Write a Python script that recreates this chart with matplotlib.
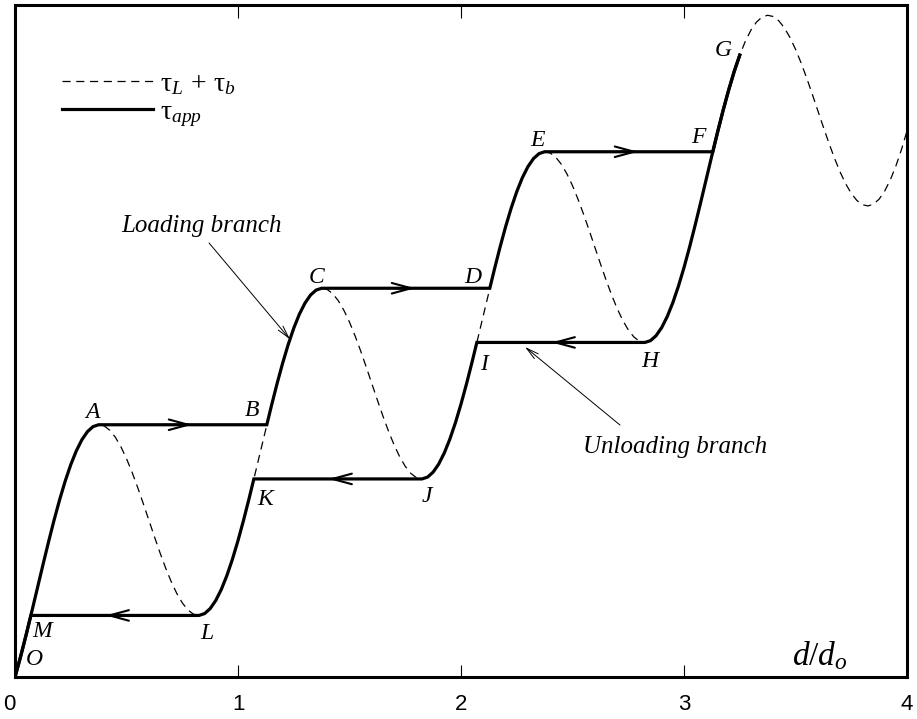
import numpy as np
import matplotlib.pyplot as plt

plt.rcParams['mathtext.fontset'] = 'custom'
plt.rcParams['mathtext.rm'] = 'Liberation Serif'
plt.rcParams['mathtext.it'] = 'Liberation Serif:italic'

# tau_L + tau_b, one sample every 0.025 in d/d_o
d_ratio = np.linspace(0, 4, 161)
tau_period0 = [0.0000, 0.1501, 0.3107, 0.4784, 0.6496, 0.8208, 0.9885, 1.1491, 1.2992, 1.4357,
               1.5560, 1.6577, 1.7389, 1.7981, 1.8346, 1.8481, 1.8389, 1.8077, 1.7560, 1.6857,
               1.5992, 1.4991, 1.3885, 1.2708, 1.1496, 1.0284, 0.9107, 0.8001, 0.7000, 0.6135,
               0.5432, 0.4915, 0.4603, 0.4511, 0.4646, 0.5011, 0.5603, 0.6415, 0.7432, 0.8635]
tau_period1 = [1.0000, 1.1501, 1.3107, 1.4784, 1.6496, 1.8208, 1.9885, 2.1491, 2.2992, 2.4357,
               2.5560, 2.6577, 2.7389, 2.7981, 2.8346, 2.8481, 2.8389, 2.8077, 2.7560, 2.6857,
               2.5992, 2.4991, 2.3885, 2.2708, 2.1496, 2.0284, 1.9107, 1.8001, 1.7000, 1.6135,
               1.5432, 1.4915, 1.4603, 1.4511, 1.4646, 1.5011, 1.5603, 1.6415, 1.7432, 1.8635]
tau_period2 = [2.0000, 2.1501, 2.3107, 2.4784, 2.6496, 2.8208, 2.9885, 3.1491, 3.2992, 3.4357,
               3.5560, 3.6577, 3.7389, 3.7981, 3.8346, 3.8481, 3.8389, 3.8077, 3.7560, 3.6857,
               3.5992, 3.4991, 3.3885, 3.2708, 3.1496, 3.0284, 2.9107, 2.8001, 2.7000, 2.6135,
               2.5432, 2.4915, 2.4603, 2.4511, 2.4646, 2.5011, 2.5603, 2.6415, 2.7432, 2.8635]
tau_period3 = [3.0000, 3.1501, 3.3107, 3.4784, 3.6496, 3.8208, 3.9885, 4.1491, 4.2992, 4.4357,
               4.5560, 4.6577, 4.7389, 4.7981, 4.8346, 4.8481, 4.8389, 4.8077, 4.7560, 4.6857,
               4.5992, 4.4991, 4.3885, 4.2708, 4.1496, 4.0284, 3.9107, 3.8001, 3.7000, 3.6135,
               3.5432, 3.4915, 3.4603, 3.4511, 3.4646, 3.5011, 3.5603, 3.6415, 3.7432, 3.8635]
tau_end = [4.0000]
tau_sum = np.array(tau_period0 + tau_period1 + tau_period2 + tau_period3 + tau_end)

g_stop = 3.25  # loading stops at G

# point labels (text positions)
point_labels = {'A': (0.348, 1.94), 'B': (1.063, 1.95), 'C': (1.35, 2.93), 'D': (2.054, 2.93),
                'E': (2.345, 3.93), 'F': (3.063, 3.95), 'G': (3.175, 4.59), 'H': (2.848, 2.315),
                'I': (2.103, 2.29), 'J': (1.848, 1.326), 'K': (1.121, 1.304), 'L': (0.861, 0.322),
                'M': (0.121, 0.33), 'O': (0.085, 0.125)}

# peaks and troughs of the curve
n = len(tau_sum)
peaks = [i for i in range(1, n - 1) if tau_sum[i] > tau_sum[i - 1] and tau_sum[i] >= tau_sum[i + 1]]
troughs = [i for i in range(1, n - 1) if tau_sum[i] < tau_sum[i - 1] and tau_sum[i] <= tau_sum[i + 1]]


def crossing(level, i0, i1):
    # x where the rising branch i0..i1 reaches level
    return np.interp(level, tau_sum[i0:i1 + 1], d_ratio[i0:i1 + 1])


def seg(x0, x1):
    m = (d_ratio > x0) & (d_ratio < x1)
    xs = np.r_[x0, d_ratio[m], x1]
    return xs, np.interp(xs, d_ratio, tau_sum)


pA, pC, pE = peaks[0], peaks[1], peaks[2]
tL, tJ, tH = troughs[0], troughs[1], troughs[2]
xA, xC, xE = d_ratio[pA], d_ratio[pC], d_ratio[pE]
xL, xJ, xH = d_ratio[tL], d_ratio[tJ], d_ratio[tH]
xB = crossing(tau_sum[pA], tL, pC)
xD = crossing(tau_sum[pC], tJ, pE)
xF = crossing(tau_sum[pE], tH, peaks[3])
xI = crossing(tau_sum[tH], tJ, pE)
xK = crossing(tau_sum[tJ], tL, pC)
xM = crossing(tau_sum[tL], 0, pA)

load = [seg(0, xA), seg(xB, xC), seg(xD, xE), seg(xF, g_stop)]
unload = [seg(xH, g_stop), seg(xJ, xI), seg(xL, xK), seg(0, xM)]
load_x = np.concatenate([s[0] for s in load])
load_y = np.concatenate([s[1] for s in load])
unload_x = np.concatenate([s[0][::-1] for s in unload])
unload_y = np.concatenate([s[1][::-1] for s in unload])

fig = plt.figure(figsize=(9.17, 7.19), dpi=100)
ax = fig.add_axes([0.0164, 0.0584, 0.9727, 0.9346])

ax.plot(d_ratio, tau_sum, color='k', lw=0.9, linestyle=(0, (6.5, 4.5)),
        label=r'$\mathrm{τ}_{L}\,+\,\mathrm{τ}_{b}$')
ax.plot(load_x, load_y, color='k', lw=2.3, solid_joinstyle='miter', label=r'$\mathrm{τ}_{app}$')
ax.plot(unload_x, unload_y, color='k', lw=2.3, solid_joinstyle='miter')

# direction arrows on the horizontal parts
h = 0.085
arrows = [(xA, xB, tau_sum[pA], 1), (xC, xD, tau_sum[pC], 1), (xE, xF, tau_sum[pE], 1),
          (xI, xH, tau_sum[tH], -1), (xK, xJ, tau_sum[tJ], -1), (xM, xL, tau_sum[tL], -1)]
for x0, x1, yv, sgn in arrows:
    mid = (x0 + x1) / 2
    ax.annotate('', xy=(mid + sgn * h / 2, yv), xytext=(mid - sgn * h / 2, yv),
                arrowprops=dict(arrowstyle='->,head_length=1.4,head_width=0.38',
                                lw=1.5, color='k', shrinkA=0, shrinkB=0, mutation_scale=10))

for name, (tx, ty) in point_labels.items():
    ax.text(tx, ty, name, fontsize=17, family='Liberation Serif', style='italic',
            ha='center', va='center')

thin = dict(arrowstyle='->,head_length=0.9,head_width=0.22', lw=0.7, color='k',
            shrinkA=0, shrinkB=0, mutation_scale=10)
load_tip = 1.233
ax.annotate('', xy=(load_tip, np.interp(load_tip, d_ratio, tau_sum)), xytext=(0.87, 3.18),
            arrowprops=thin)
ax.text(0.836, 3.26, 'Loading branch', fontsize=18, family='Liberation Serif', style='italic',
        ha='center', va='baseline')
ax.annotate('', xy=(2.287, 2.418), xytext=(2.713, 1.846), arrowprops=thin)
ax.text(2.96, 1.641, 'Unloading branch', fontsize=18, family='Liberation Serif', style='italic',
        ha='center', va='baseline')

ax.text(3.484, 0.088, r'$d/d_{o}$', fontsize=24, ha='left', va='baseline')

ax.legend(loc='upper left', bbox_to_anchor=(0.053, 0.905), frameon=False, fontsize=20,
          handlelength=3.25, handletextpad=0.25, labelspacing=0.0, borderpad=0, borderaxespad=0)

ax.set_xlim(0, 4)
ax.set_ylim(0, 4.923)
ax.set_xticks([0, 1, 2, 3, 4])
ax.set_yticks([])
ax.tick_params(axis='x', direction='in', length=9, width=0.8, top=True, pad=12, labelsize=16)
for lab in ax.get_xticklabels():
    lab.set_family('Liberation Sans')
ax.get_xticklabels()[0].set_ha('right')
for sp in ax.spines.values():
    sp.set_linewidth(2.2)

fig.savefig('out.png', dpi=100)
